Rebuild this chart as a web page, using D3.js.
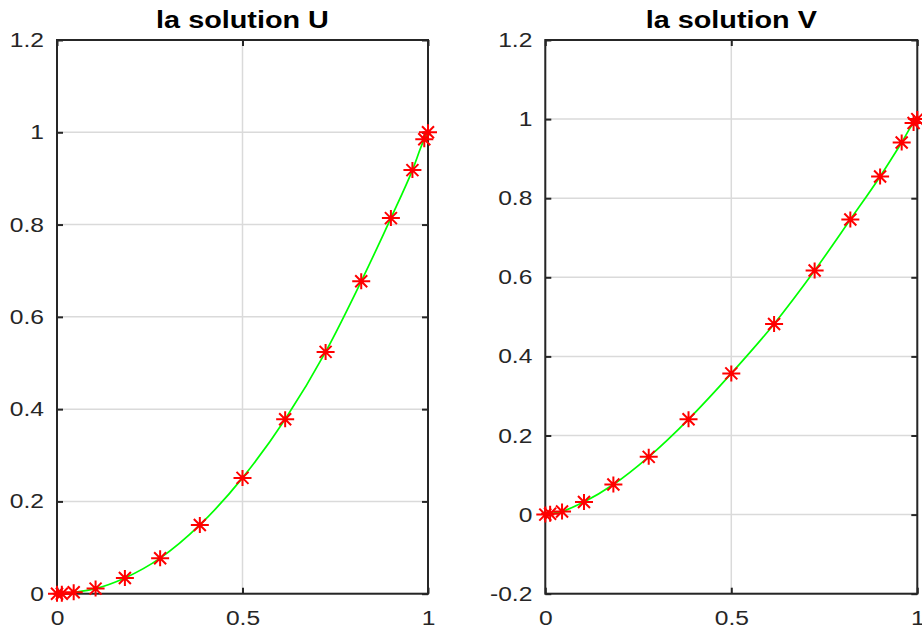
<!DOCTYPE html>
<html>
<head>
<meta charset="utf-8">
<script src="https://cdn.jsdelivr.net/npm/d3@7"></script>
<style>
  body { margin: 0; background: #fff; }
  text { font-family: "Liberation Sans", Arial, Helvetica, sans-serif; }
</style>
</head>
<body>
<div class="canvas"></div>
<script>
// collocation nodes (same grid for both solutions)
const xNodes = [0, 0.013, 0.045, 0.104, 0.183, 0.278, 0.385, 0.5, 0.615, 0.724, 0.82, 0.9, 0.958, 0.99, 1];
const uValues = [0, 0, 0.003, 0.011, 0.034, 0.077, 0.149, 0.251, 0.378, 0.524, 0.677, 0.814, 0.918, 0.985, 1.0];
const vValues = [0, 0.002, 0.008, 0.032, 0.076, 0.146, 0.241, 0.357, 0.482, 0.617, 0.746, 0.855, 0.941, 0.99, 1.0];

const xTicks = [0, 0.5, 1];
const uTicks = [0, 0.2, 0.4, 0.6, 0.8, 1, 1.2];
const vTicks = [-0.2, 0, 0.2, 0.4, 0.6, 0.8, 1, 1.2];
const titles = ['la solution U', 'la solution V'];

const W = 922, H = 630;
const stretch = 1.2; // text is drawn a bit wide, like the original export

const svg = d3.select('.canvas')
    .append('svg')
    .attr('width', W)
    .attr('height', H);

const panels = [
    {left: 57, right: 428, title: titles[0], vals: uValues, ticks: uTicks, dom: [0, 1.2]},
    {left: 545.3, right: 917.3, title: titles[1], vals: vValues, ticks: vTicks, dom: [-0.2, 1.2]}
];
const plotTop = 40, plotBottom = 593.7;

// plain hyphen for negatives, like matlab
const fmt = d => String(+d.toFixed(1));

panels.forEach(p => {
    const x = d3.scaleLinear().domain([0, 1]).range([p.left, p.right]);
    const y = d3.scaleLinear().domain(p.dom).range([plotBottom, plotTop]);

    const g = svg.append('g');

    // grid
    g.selectAll('.hgrid').data(p.ticks).enter().append('line')
        .attr('x1', p.left).attr('x2', p.right)
        .attr('y1', d => y(d)).attr('y2', d => y(d))
        .attr('stroke', '#dadada').attr('stroke-width', 1.5);
    g.selectAll('.vgrid').data(xTicks).enter().append('line')
        .attr('y1', plotTop).attr('y2', plotBottom)
        .attr('x1', d => x(d)).attr('x2', d => x(d))
        .attr('stroke', '#dadada').attr('stroke-width', 1.5);

    // curve
    const pts = xNodes.map((d, i) => [d, p.vals[i]]);
    const line = d3.line()
        .x(d => x(d[0]))
        .y(d => y(d[1]))
        .curve(d3.curveMonotoneX);
    g.append('path')
        .datum(pts)
        .attr('d', line)
        .attr('fill', 'none')
        .attr('stroke', '#00ff00')
        .attr('stroke-width', 1.7);

    // axes (ticks inside, box on)
    const leftAx = g.append('g').attr('transform', `translate(${p.left},0)`)
        .call(d3.axisLeft(y).tickValues(p.ticks).tickSize(-6).tickPadding(13).tickFormat(fmt));
    const rightAx = g.append('g').attr('transform', `translate(${p.right},0)`)
        .call(d3.axisRight(y).tickValues(p.ticks).tickSize(-6).tickFormat(''));
    const bottomAx = g.append('g').attr('transform', `translate(0,${plotBottom})`)
        .call(d3.axisBottom(x).tickValues(xTicks).tickSize(-6).tickPadding(0).tickFormat(fmt));
    const topAx = g.append('g').attr('transform', `translate(0,${plotTop})`)
        .call(d3.axisTop(x).tickValues(xTicks).tickSize(-6).tickFormat(''));

    [leftAx, rightAx, bottomAx, topAx].forEach(a => {
        a.select('.domain').remove();
        a.selectAll('line').attr('stroke', '#262626').attr('stroke-width', 2);
    });

    leftAx.selectAll('text')
        .attr('font-size', 20.5)
        .attr('fill', '#262626')
        .attr('x', -13 / stretch)
        .attr('transform', `scale(${stretch},1)`);
    bottomAx.selectAll('text')
        .attr('font-size', 20.5)
        .attr('fill', '#262626')
        .attr('y', 31)
        .attr('dy', 0)
        .attr('transform', `scale(${stretch},1)`);

    // frame
    g.append('rect')
        .attr('x', p.left).attr('y', plotTop)
        .attr('width', p.right - p.left).attr('height', plotBottom - plotTop)
        .attr('fill', 'none')
        .attr('stroke', '#262626')
        .attr('stroke-width', 2);

    // markers '*'
    const star = 'M-9,0H9M0,-8V8M-6,-6L6,6M-6,6L6,-6';
    g.selectAll('.mk').data(pts).enter().append('path')
        .attr('transform', d => `translate(${x(d[0])},${y(d[1])})`)
        .attr('d', star)
        .attr('fill', 'none')
        .attr('stroke', '#ff0000')
        .attr('stroke-width', 2);

    // title
    const cx = (p.left + p.right) / 2;
    svg.append('text')
        .attr('x', cx / stretch)
        .attr('y', 28)
        .attr('text-anchor', 'middle')
        .attr('font-size', 24)
        .attr('font-weight', 'bold')
        .attr('fill', '#000')
        .attr('transform', `scale(${stretch},1)`)
        .text(p.title);
});
</script>
</body>
</html>
